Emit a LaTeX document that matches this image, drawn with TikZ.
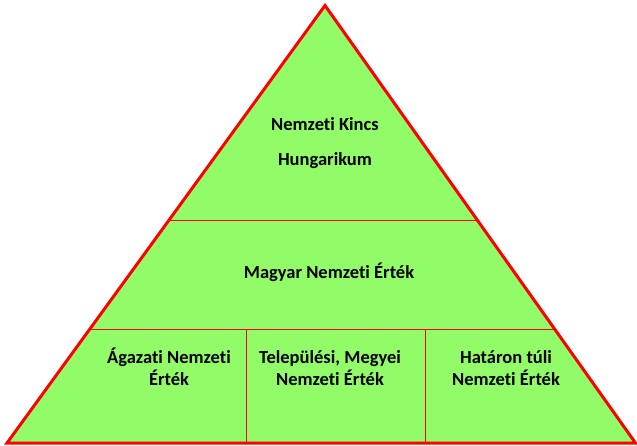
\documentclass[tikz,border=0pt]{standalone}
\usepackage{fontspec}
\setmainfont[Ligatures=NoCommon]{Carlito}
\usetikzlibrary{calc}
\definecolor{pyrgreen}{RGB}{146,252,104}
\definecolor{pyrred}{RGB}{255,0,0}
\tikzset{
  lbl/.style={font=\fontsize{18.5}{22.5}\selectfont\bfseries, align=center, inner sep=0pt, text=black},
  divider/.style={draw=pyrred, line width=1.2pt},
  outline/.style={draw=pyrred, line width=3pt, line join=miter}
}
\begin{document}
\begin{tikzpicture}[x=1pt,y=-1pt]
\useasboundingbox (0,0) rectangle (637,445);
\coordinate (A) at (325,5.5);
\coordinate (L) at (7,443);
\coordinate (R) at (635.5,443);
\fill[pyrgreen] (A) -- (L) -- (R) -- cycle;
\coordinate (l1) at ($(L)!0.5086!(A)$);
\coordinate (r1) at ($(R)!0.5086!(A)$);
\coordinate (l2) at ($(L)!0.2594!(A)$);
\coordinate (r2) at ($(R)!0.2594!(A)$);
\coordinate (v1t) at (246.5,329.5);
\coordinate (v1b) at (246.5,443);
\coordinate (v2t) at (425.5,329.5);
\coordinate (v2b) at (425.5,443);
\draw[divider] (l1) -- (r1);
\draw[divider] (l2) -- (r2);
\draw[divider] (v1t) -- (v1b);
\draw[divider] (v2t) -- (v2b);
\draw[outline] (A) -- (L) -- (R) -- cycle;
\node[lbl, anchor=base] (t1) at (325,130.5) {Nemzeti Kincs};
\node[lbl, anchor=base] (t2) at (325,165) {Hungarikum};
\node[lbl, anchor=base] (t3) at (329,278) {Magyar Nemzeti Érték};
\node[lbl, anchor=base] (t4) at (169,385.5) {Ágazati Nemzeti\\Érték};
\node[lbl, anchor=base] (t5) at (330,385.5) {Települési, Megyei\\Nemzeti Érték};
\node[lbl, anchor=base] (t6) at (506,385.5) {Határon túli\\Nemzeti Érték};
\end{tikzpicture}
\end{document}
